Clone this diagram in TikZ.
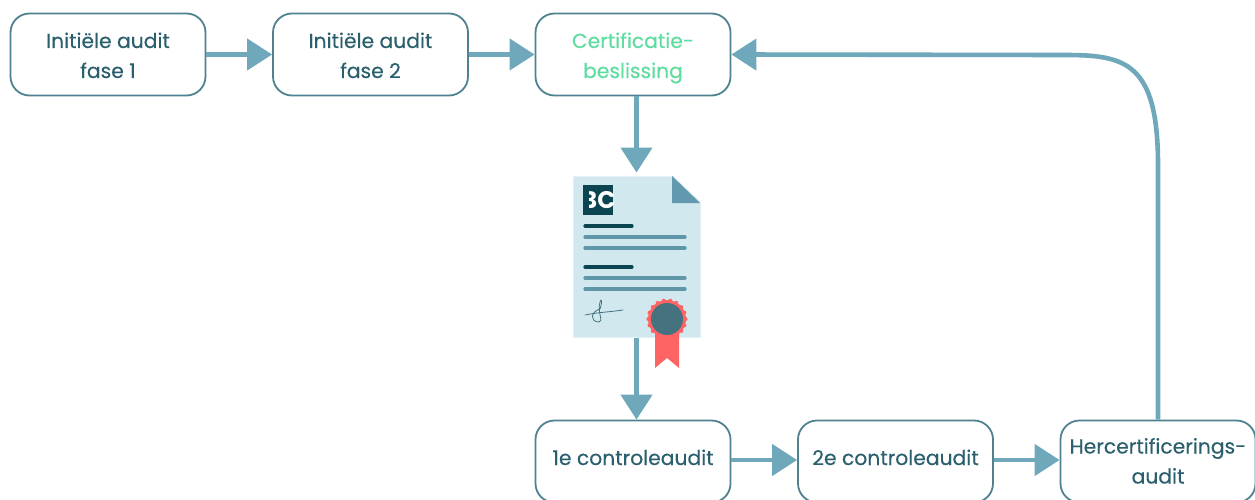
\documentclass[tikz,border=0pt]{standalone}
\usepackage{fontspec}
\setmainfont{Poppins}
\usetikzlibrary{arrows.meta,calc}
\definecolor{edgec}{HTML}{6FA8BA}
\definecolor{boxc}{HTML}{4F828F}
\definecolor{txtc}{HTML}{2A5F6D}
\definecolor{greenc}{HTML}{5FDCA0}
\definecolor{pagec}{HTML}{D1E9EE}
\definecolor{foldc}{HTML}{6399AE}
\definecolor{darkc}{HTML}{0B4552}
\definecolor{tealc}{HTML}{5F97A8}
\definecolor{coralc}{HTML}{FF6464}
\definecolor{sealc}{HTML}{44737F}
\newcommand\ls[1]{\rule[\dimexpr#1pt-15pt\relax]{0pt}{30pt}}
\tikzset{
  x=1pt,y=-1pt,
  stepbox/.style={draw=boxc,line width=1.8pt,rounded corners=19pt,fill=white,minimum width=195pt,minimum height=82pt,inner sep=0pt,align=center,text=txtc,font=\fontsize{20.3}{30}\selectfont\addfontfeature{FakeBold=0.25}},
  arr/.style={draw=edgec,line width=4.6pt,-{Triangle[length=25pt,width=31pt]}},
  doc/.style={fill=pagec,draw=pagec!60,line width=1pt,minimum width=127pt,minimum height=161pt,inner sep=0pt},
  darkline/.style={draw=darkc,line width=3.2pt,line cap=round},
  tealline/.style={draw=tealc,line width=3.2pt,line cap=round},
}
\begin{document}
\begin{tikzpicture}
\useasboundingbox (0,0) rectangle (1255,500);
\clip (0,0) rectangle (1255,500);
\node[stepbox] (a) at (108,54.5) {\ls{8.5}Initiële audit\\\ls{8.5}fase 1};
\node[stepbox] (b) at (370.5,54.5) {\ls{8.5}Initiële audit\\\ls{8.5}fase 2};
\node[stepbox,text=greenc] (c) at (633,54.5) {\ls{8.5}Certificatie-\\\ls{8.5}beslissing};
\node[stepbox] (d) at (633,461.5) {\ls{3.5}1e controleaudit};
\node[stepbox] (e) at (895.5,461.5) {\ls{3.5}2e controleaudit};
\node[stepbox] (f) at (1158,461.5) {\ls{7}Hercertificerings-\\\ls{7}audit};
% certificate
\node[doc] (cert) at (636.5,256.5) {};
\fill[white] (672,175) -- (702,175) -- (702,203) -- cycle;
\fill[foldc] (672,176) -- (672,203) -- (700,203) -- cycle;
\fill[darkc] (583,185) rectangle (613,215);
\begin{scope}
\clip (583,185) rectangle (613,215);
\node[text=white,font=\fontsize{24}{24}\selectfont\bfseries,inner sep=0pt] (logo) at (598.5,200.5) {BC};
\fill[darkc] (583,185) rectangle (588.5,215);
\end{scope}
\draw[darkline] (585,226) -- (632,226);
\draw[tealline] (585,237) -- (685,237);
\draw[tealline] (585,248) -- (685,248);
\draw[darkline] (585,267) -- (632,267);
\draw[tealline] (585,278) -- (685,278);
\draw[tealline] (585,289) -- (685,289);
\draw[sealc,line width=0.8pt,line cap=round] (585,315) .. controls (600,312) and (610,312) .. (623,310);
\draw[sealc,line width=0.8pt,line cap=round] (599,322) .. controls (590,322) and (590,312) .. (600,309) .. controls (603,300) and (601,298) .. (600,302) .. controls (597,312) and (604,322) .. (599,322);
\fill[coralc] (655,325) -- (679,325) -- (679,368) -- (667,358) -- (655,368) -- cycle;
\foreach \i in {0,20,...,340} \fill[coralc] ($(667,319)+(\i:18.6)$) circle (2);
\fill[coralc] (667,319) circle (19);
\fill[sealc] (667,319) circle (16);
% connectors
\coordinate (bendv) at (f.north |- 0,165);
\coordinate (bendh) at (1065,55);
\draw[arr] (a) -- (b);
\draw[arr] (b) -- (c);
\draw[arr,shorten >=3pt] (c.south -| cert.north) -- (cert.north);
\draw[arr] (cert.south) -- (cert.south |- d.north);
\draw[arr] ([yshift=1.5pt]d.east) -- ([yshift=1.5pt]e.west);
\draw[arr] ([yshift=1.5pt]e.east) -- ([yshift=1.5pt]f.west);
\draw[arr] (f.north) -- (bendv) .. controls (1158,62) and (1125,55) .. (bendh) -- (c.east);
\end{tikzpicture}
\end{document}
